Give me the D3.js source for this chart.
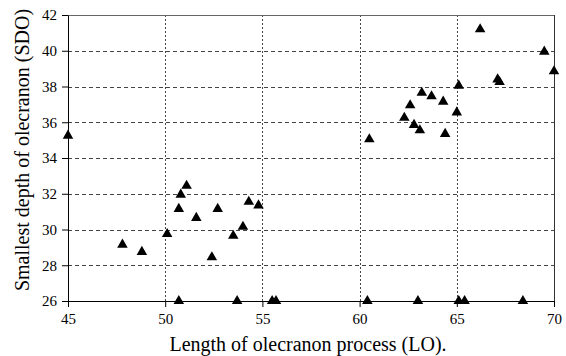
<!DOCTYPE html>
<html>
<head>
<meta charset="utf-8">
<script src="https://cdn.jsdelivr.net/npm/d3@7"></script>
</head>
<body style="margin:0; background:#fff">
<div id="chart"></div>
<script>
// LO (x) and SDO (y) measurements
const loValues = [
    45.0, 66.2, 69.5, 70.0, 67.1, 67.2, 65.1, 63.2, 63.7, 64.3, 62.6, 65.0, 62.3, 62.8, 63.1, 64.4, 60.5,
    51.1, 50.8, 54.3, 54.8, 50.7, 52.7, 51.6, 54.0, 50.1, 53.5, 47.8, 48.8, 52.4,
    50.7, 53.7, 55.5, 55.7, 60.4, 63.0, 65.1, 65.4, 68.4
];
const sdoValues = [
    35.25, 41.2, 39.95, 38.85, 38.4, 38.25, 38.05, 37.65, 37.45, 37.15, 36.95, 36.55, 36.25, 35.85, 35.55, 35.35, 35.05,
    32.45, 31.95, 31.55, 31.35, 31.15, 31.15, 30.65, 30.15, 29.75, 29.65, 29.15, 28.75, 28.45,
    26, 26, 26, 26, 26, 26, 26, 26, 26
];
const xTicks = [45, 50, 55, 60, 65, 70];
const yTicks = [26, 28, 30, 32, 34, 36, 38, 40, 42];

const points = loValues.map((d, i) => ({lo: d, sdo: sdoValues[i]}));

const serif = '"Liberation Serif", "Times New Roman", serif';
const width = 566, height = 356;
const margin = {top: 15, right: 12, bottom: 55, left: 68};
const innerW = width - margin.left - margin.right;
const innerH = height - margin.top - margin.bottom;

const svg = d3.select("#chart").append("svg")
    .attr("width", width)
    .attr("height", height)
    .attr("font-family", serif)
    .style("font-family", serif, "important");

const g = svg.append("g")
    .attr("transform", `translate(${margin.left},${margin.top})`);

const x = d3.scaleLinear().domain([45, 70]).range([0, innerW]);
const y = d3.scaleLinear().domain([26, 42]).range([innerH, 0]);

// horizontal dashed grid
g.append("g")
    .selectAll("line")
    .data(yTicks.filter(t => t > 26 && t < 42))
    .enter().append("line")
    .attr("x1", 0).attr("x2", innerW)
    .attr("y1", d => Math.round(y(d)) + 0.5).attr("y2", d => Math.round(y(d)) + 0.5)
    .attr("stroke", "#444")
    .attr("stroke-dasharray", "4,3");

// vertical dotted grid
g.append("g")
    .selectAll("line")
    .data(xTicks.filter(t => t > 45 && t < 70))
    .enter().append("line")
    .attr("x1", d => Math.round(x(d)) + 0.5).attr("x2", d => Math.round(x(d)) + 0.5)
    .attr("y1", 0).attr("y2", innerH)
    .attr("stroke", "#444")
    .attr("stroke-dasharray", "2,2");

// top and right border
g.append("line")
    .attr("x1", 0).attr("x2", innerW)
    .attr("y1", 0.5).attr("y2", 0.5)
    .attr("stroke", "#666");
g.append("line")
    .attr("x1", innerW + 0.5).attr("x2", innerW + 0.5)
    .attr("y1", 0).attr("y2", innerH)
    .attr("stroke", "#333");

// axes
const xAxis = g.append("g")
    .attr("transform", `translate(0,${innerH})`)
    .call(d3.axisBottom(x).tickValues(xTicks).tickSize(6).tickPadding(6).tickSizeOuter(0));
const yAxis = g.append("g")
    .call(d3.axisLeft(y).tickValues(yTicks).tickSize(6).tickPadding(5).tickSizeOuter(0));
[xAxis, yAxis].forEach(a => {
    a.attr("font-family", serif).attr("font-size", 15);
    a.select(".domain").attr("stroke", "#000");
    a.selectAll(".tick line").attr("stroke", "#000");
    a.selectAll(".tick text")
        .attr("fill", "#000")
        .style("font-family", serif, "important")
        .style("font-size", "15px");
});

// triangle markers
const tri = d3.symbol().type(d3.symbolTriangle).size(48);
g.append("g")
    .selectAll("path")
    .data(points)
    .enter().append("path")
    .attr("d", tri)
    .attr("transform", d => `translate(${x(d.lo)},${y(d.sdo)})`)
    .attr("fill", "#000");

// axis titles
svg.append("text")
    .attr("x", margin.left + innerW / 2 - 3)
    .attr("y", 351)
    .attr("text-anchor", "middle")
    .style("font-family", serif, "important")
    .style("font-size", "20px")
    .text("Length of olecranon process (LO).");

svg.append("text")
    .attr("transform", `translate(29,${margin.top + innerH / 2 - 8}) rotate(-90)`)
    .attr("text-anchor", "middle")
    .style("font-family", serif, "important")
    .style("font-size", "20px")
    .text("Smallest depth of olecranon (SDO)");
</script>
</body>
</html>
